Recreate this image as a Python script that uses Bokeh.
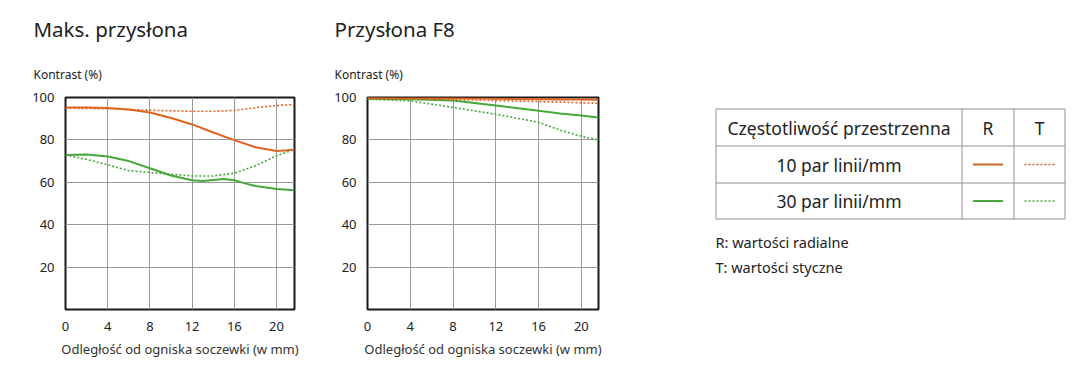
from bokeh.plotting import figure
from bokeh.layouts import row
from bokeh.models import Range1d, Title, FixedTicker
from bokeh.core.properties import value
from bokeh.embed import file_html
from bokeh.resources import INLINE

# ---------------- data ----------------
x_ticks = [0, 4, 8, 12, 16, 20]
y_ticks = [20, 40, 60, 80, 100]

# Maks. przysłona
x_max = [0, 2, 4, 6, 8, 10, 12, 14, 16, 18, 20, 21.7]
r10_max = [95.3, 95.3, 95.1, 94.3, 92.9, 90.3, 87.3, 83.5, 79.9, 76.5, 74.8, 75.3]
t10_max = [95.0, 94.8, 94.7, 94.3, 94.0, 93.7, 93.5, 93.5, 93.9, 95.2, 96.2, 96.7]
x_max_r30 = [0, 2, 4, 6, 8, 10, 12, 13, 15, 16, 17, 18, 20, 21.7]
r30_max = [72.9, 73.1, 72.2, 70.0, 66.6, 63.2, 61.0, 60.6, 61.6, 61.0, 59.5, 58.3, 56.8, 56.3]
t30_max = [72.9, 70.8, 68.2, 65.5, 64.6, 63.8, 63.0, 63.0, 64.3, 67.8, 72.5, 75.5]

# Przysłona F8
x_f8 = [0, 4, 8, 12, 16, 18, 20, 21.6]
r10_f8 = [99.8, 99.7, 99.6, 99.4, 99.2, 99.1, 99.0, 98.9]
t10_f8 = [99.5, 99.3, 99.0, 98.6, 98.1, 97.8, 97.5, 97.2]
r30_f8 = [99.4, 99.2, 98.6, 96.2, 93.7, 92.5, 91.5, 90.6]
t30_f8 = [99.2, 98.4, 95.3, 92.1, 88.3, 84.6, 81.7, 80.0]

titles = ["Maks. przysłona", "Przysłona F8"]
y_label = "Kontrast (%)"
x_label = "Odległość od ogniska soczewki (w mm)"

table_header = ["Częstotliwość przestrzenna", "R", "T"]
freq_labels = ["10 par linii/mm", "30 par linii/mm"]
notes = ["R: wartości radialne", "T: wartości styczne"]

ORANGE = "#DE6420"
GREEN = "#45A83A"
LEG_ORANGE = "#CC6428"
LEG_GREEN = "#4AA83E"
TXT = "#222222"
FONT = "Noto Sans"

TOP, BOTTOM = 97, 68


def mtf_chart(width, left, right, xmax, title, title_x, series):
    p = figure(width=width, height=377, output_backend="svg", toolbar_location=None,
               x_range=Range1d(0, xmax), y_range=Range1d(0, 100), title=None,
               min_border_left=left, min_border_right=right,
               min_border_top=TOP, min_border_bottom=BOTTOM)
    p.background_fill_color = "white"
    p.border_fill_color = "white"
    p.outline_line_color = "#1a1a1a"
    p.outline_line_width = 2
    p.xaxis.ticker = FixedTicker(ticks=x_ticks)
    p.yaxis.ticker = FixedTicker(ticks=y_ticks)
    for ax in (p.xaxis[0], p.yaxis[0]):
        ax.axis_line_color = None
        ax.major_tick_line_color = None
        ax.minor_tick_line_color = None
        ax.major_label_text_font = FONT
        ax.major_label_text_font_size = "13px"
        ax.major_label_text_color = TXT
    p.xaxis.major_label_standoff = 6
    p.yaxis.major_label_standoff = 5
    p.xaxis.axis_label = x_label
    p.xaxis.axis_label_text_font = FONT
    p.xaxis.axis_label_text_font_size = "13px"
    p.xaxis.axis_label_text_font_style = "normal"
    p.xaxis.axis_label_text_color = "#333333"
    p.xaxis.axis_label_standoff = 6
    p.xgrid.ticker = FixedTicker(ticks=x_ticks)
    p.ygrid.ticker = FixedTicker(ticks=y_ticks)
    p.grid.grid_line_color = "#9a9a9a"
    p.grid.grid_line_width = 1

    for xs, ys, color, dash, w in series:
        p.line(xs, ys, line_color=color, line_width=w, line_dash=dash)

    p.add_layout(Title(text=y_label, align="left", offset=title_x - left,
                       text_font=FONT, text_font_size="12px", text_font_style="normal",
                       text_color=TXT, standoff=29), "above")
    p.add_layout(Title(text=title, align="left", offset=title_x - left,
                       text_font=FONT, text_font_size="20.5px", text_font_style="normal",
                       text_color=TXT, standoff=14), "above")
    return p


p1 = mtf_chart(303, 65, 9, 21.7, titles[0], 33, [
    (x_max, t10_max, ORANGE, "2 2", 1.6),
    (x_max, t30_max, GREEN, "2 2", 1.6),
    (x_max, r10_max, ORANGE, "solid", 2),
    (x_max_r30, r30_max, GREEN, "solid", 2),
])
p2 = mtf_chart(307, 64, 12, 21.6, titles[1], 31, [
    (x_f8, t30_f8, GREEN, "2 2", 1.6),
    (x_f8, r30_f8, GREEN, "solid", 2),
    (x_f8, t10_f8, ORANGE, "2 2", 1.6),
    (x_f8, r10_f8, ORANGE, "solid", 2),
])

# ---------------- legend table (pixel-space figure) ----------------
X0 = 610
p3 = figure(width=1090 - X0, height=377, output_backend="svg", toolbar_location=None,
            x_range=Range1d(X0, 1090), y_range=Range1d(377 - BOTTOM, TOP),
            min_border_left=0, min_border_right=0,
            min_border_top=TOP, min_border_bottom=BOTTOM)
p3.axis.visible = False
p3.grid.visible = False
p3.outline_line_color = None
p3.background_fill_color = "white"
p3.border_fill_color = "white"

tl, tr, c1, c2 = 715.5, 1064.5, 961.5, 1013.5
rows_y = [108.5, 145.5, 182.5, 218.5]
GRID_C = "#8f8f8f"
p3.segment(x0=[tl] * 4, y0=rows_y, x1=[tr] * 4, y1=rows_y, line_color=GRID_C, line_width=1)
p3.segment(x0=[tl, c1, c2, tr], y0=[rows_y[0]] * 4, x1=[tl, c1, c2, tr], y1=[rows_y[-1]] * 4,
           line_color=GRID_C, line_width=1)

cx = [(tl + c1) / 2, (c1 + c2) / 2, (c2 + tr) / 2]
cy = [(rows_y[i] + rows_y[i + 1]) / 2 for i in range(3)]
p3.text(x=cx, y=[cy[0]] * 3, text=table_header, text_font=value(FONT),
        text_font_size="17.5px", text_color=TXT, text_align="center", text_baseline="middle")
p3.text(x=[cx[0]] * 2, y=cy[1:], text=freq_labels, text_font=value(FONT),
        text_font_size="17.5px", text_color=TXT, text_align="center", text_baseline="middle")

for yy, col in ((cy[1], LEG_ORANGE), (cy[2], LEG_GREEN)):
    p3.line(x=[cx[1] - 15, cx[1] + 15], y=[yy, yy], line_color=col, line_width=2)
    p3.line(x=[cx[2] - 15, cx[2] + 15], y=[yy, yy], line_color=col, line_width=1.6, line_dash="2 2")

p3.text(x=[tl - 0.5] * 2, y=[241, 266], text=notes, text_font=value(FONT),
        text_font_size="14.5px", text_color=TXT, text_align="left", text_baseline="middle")

layout = row(p1, p2, p3)
open("out.html", "w").write(file_html(layout, INLINE))
